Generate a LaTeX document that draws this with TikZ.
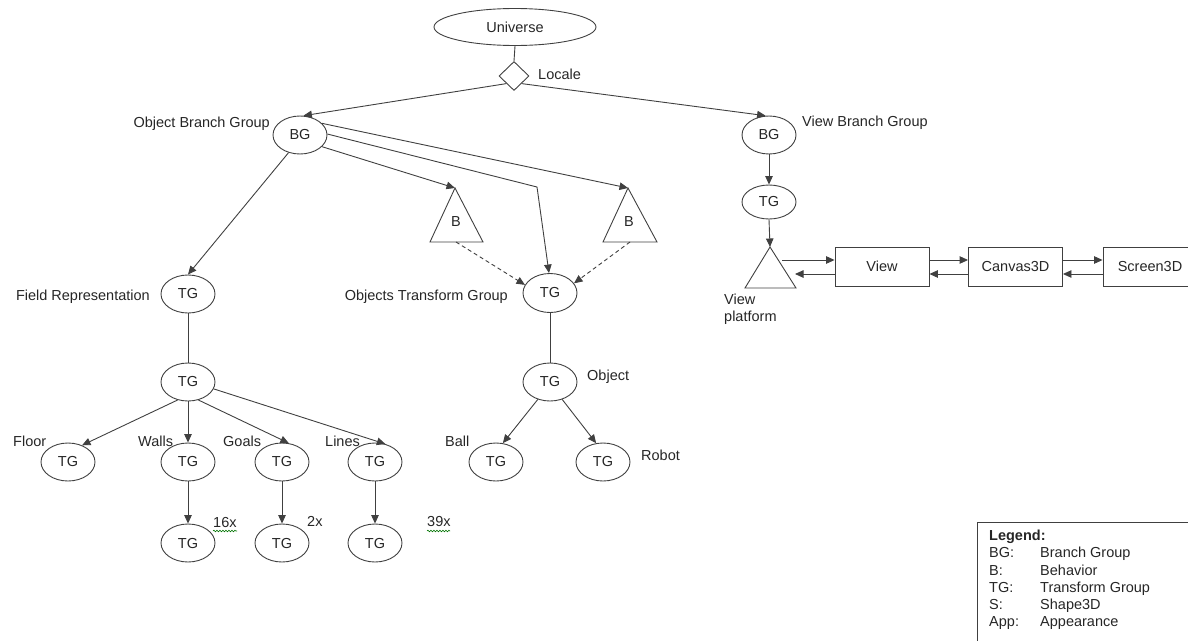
\documentclass[tikz,border=0pt]{standalone}
\usepackage{fontspec}
\setmainfont{Liberation Sans}
\usetikzlibrary{shapes.geometric,arrows.meta,decorations.pathmorphing}
\begin{document}
\begin{tikzpicture}[x=1pt,y=-1pt,
  font=\fontsize{14.5}{16.5}\selectfont,
  every node/.style={text=black!85},
  ln/.style={draw=black!75, line width=0.9pt},
  arr/.style={ln, -{Triangle[length=8.5pt,width=7.5pt]}},
  darr/.style={arr, dash pattern=on 4pt off 3pt},
  grp/.style={ellipse, draw=black!75, line width=0.9pt, minimum width=54pt, minimum height=38pt, inner sep=0pt},
  boxn/.style={rectangle, draw=black!75, line width=0.9pt, minimum width=94pt, minimum height=39pt, inner sep=0pt},
  lbl/.style={anchor=west, inner sep=0pt, text height=10.5pt, text depth=3pt},
  lblr/.style={anchor=east, inner sep=0pt, text height=10.5pt, text depth=3pt},
  squig/.style={draw=green!45!black, line width=0.6pt, decorate, decoration={snake, amplitude=0.8pt, segment length=3pt}},
]
\useasboundingbox (0,0) rectangle (1188,640);
\clip (0,0) rectangle (1188,640);

% root of the scene graph
\node[ellipse, draw=black!75, line width=0.9pt, minimum width=162pt, minimum height=37pt, inner sep=0pt] (universe) at (515,27) {Universe};
\node[diamond, draw=black!75, line width=0.9pt, minimum width=30pt, minimum height=29pt, inner sep=0pt] (locale) at (514,76) {};
\node[lbl] (localel) at (538,76) {Locale};
\draw[ln] (universe.south) -- (locale.north);

% branch groups
\node[grp] (obg) at (300,135) {BG};
\node[lblr] (obgl) at (270,124) {Object Branch Group};
\node[grp] (vbg) at (769,135) {BG};
\node[lbl] (vbgl) at (802,123) {View Branch Group};
\draw[arr] (locale.225) -- (obg.80);
\draw[arr] (locale.315) -- (vbg.100);

% view branch
\node[grp, minimum height=34pt] (vtg) at (769,202) {TG};
\draw[arr] (vbg.south) -- (vtg.north);
\coordinate (vptop) at (770,247);
\coordinate (vpbl) at (745,288);
\coordinate (vpbr) at (796,288);
\draw[ln] (vptop) -- (vpbl) -- (vpbr) -- cycle;
\draw[arr] (vtg.south) -- (vptop);
\node[anchor=north west, inner sep=0pt, align=left] (vpl) at (724,294) {View\\platform};
\coordinate (vpout) at (782,260);
\coordinate (vpin) at (795,274);
\node[boxn] (view) at (882,266.5) {View};
\node[boxn] (canvas) at (1015.5,266.5) {Canvas3D};
\node[boxn] (screen) at (1150,266.5) {Screen3D};
\draw[arr] (vpout) -- (view.west |- vpout);
\draw[arr] (view.west |- vpin) -- (vpin);
\draw[arr] (view.east |- vpout) -- (canvas.west |- vpout);
\draw[arr] (canvas.west |- vpin) -- (view.east |- vpin);
\draw[arr] (canvas.east |- vpout) -- (screen.west |- vpout);
\draw[arr] (screen.west |- vpin) -- (canvas.east |- vpin);

% behaviors and the objects transform group
\coordinate (b1top) at (455,188);
\coordinate (b1base) at (456,242);
\draw[ln] (b1top) -- (430,242) -- (483,242) -- cycle;
\node (b1) at (456,222) {B};
\coordinate (b2top) at (628,188);
\coordinate (b2base) at (630,242);
\draw[ln] (b2top) -- (603,242) -- (657,242) -- cycle;
\node (b2) at (629,222) {B};

\node[grp, minimum height=39pt] (otg) at (550,293) {TG};
\node[lblr] (otgl) at (508,297) {Objects Transform Group};
\coordinate (bend) at (537,187);
\draw[arr] (obg.-28) -- (b1top);
\draw[arr] (obg.2) -- (bend) -- ([xshift=-1pt]otg.north);
\draw[arr] (obg.28) -- (b2top);
\draw[darr] (b1base) -- (otg.162);
\draw[darr] (b2base) -- (otg.22);

% objects
\node[grp] (otg2) at (550,382) {TG};
\node[lbl] (otg2l) at (587,377) {Object};
\draw[ln] (otg.south) -- (otg2.north);
\node[grp] (ball) at (496,462) {TG};
\node[lbl] (balll) at (445,443) {Ball};
\node[grp] (robot) at (603,462) {TG};
\node[lbl] (robotl) at (641,457) {Robot};
\draw[arr] (otg2.235) -- (ball.70);
\draw[arr] (otg2.-55) -- (robot.110);

% field representation
\node[grp] (ftg) at (188,294) {TG};
\node[lblr] (ftgl) at (150,297) {Field Representation};
\draw[arr] (obg.237) -- (ftg.north);
\node[grp] (tg2) at (188,382) {TG};
\draw[ln] (ftg.south) -- (tg2.north);

\node[grp] (floor) at (68,462) {TG};
\node[grp] (walls) at (188,462) {TG};
\node[grp] (goals) at (282,462) {TG};
\node[grp] (lines) at (375,462) {TG};
\node[lbl] (floorl) at (13,443) {Floor};
\node[lbl] (wallsl) at (138,443) {Walls};
\node[lbl] (goalsl) at (223,443) {Goals};
\node[lbl] (linesl) at (325,443) {Lines};
\draw[arr] (tg2.240) -- (floor.50);
\draw[arr] (tg2.south) -- (walls.north);
\draw[arr] (tg2.-60) -- (goals.70);
\draw[arr] (tg2.-15) -- (lines.60);

\node[grp] (walls2) at (188,543) {TG};
\node[grp] (goals2) at (282,543) {TG};
\node[grp] (lines2) at (375,543) {TG};
\draw[arr] (walls.south) -- (walls2.north);
\draw[arr] (goals.south) -- (goals2.north);
\draw[arr] (lines.south) -- (lines2.north);
\node[lbl] (n16) at (213,524) {16x};
\node[lbl] (n2) at (307,523) {2x};
\node[lbl] (n39) at (427,523) {39x};
\draw[squig] (213,531) -- (237,531);
\draw[squig] (427,531) -- (450,531);

% legend
\draw[ln] (977,522) rectangle (1210,660);
\node[lbl, font=\fontsize{14.5}{16.5}\selectfont\bfseries] (legt) at (989,537) {Legend:};
\node[lbl] (k1) at (989,554) {BG:};
\node[lbl] (v1) at (1040,554) {Branch Group};
\node[lbl] (k2) at (989,571.5) {B:};
\node[lbl] (v2) at (1040,571.5) {Behavior};
\node[lbl] (k3) at (989,589) {TG:};
\node[lbl] (v3) at (1040,589) {Transform Group};
\node[lbl] (k4) at (989,606) {S:};
\node[lbl] (v4) at (1040,606) {Shape3D};
\node[lbl] (k5) at (989,623) {App:};
\node[lbl] (v5) at (1040,623) {Appearance};
\end{tikzpicture}
\end{document}
